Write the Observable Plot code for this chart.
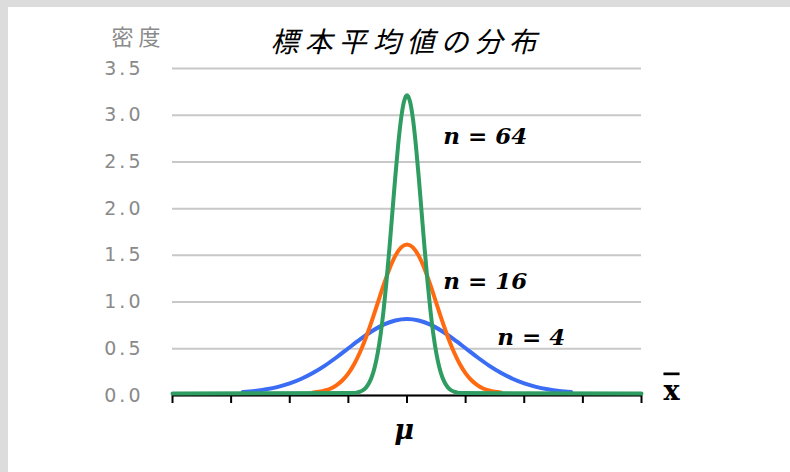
<!DOCTYPE html>
<html>
<head>
<meta charset="utf-8">
<script src="https://cdn.jsdelivr.net/npm/d3@7"></script>
<script src="https://cdn.jsdelivr.net/npm/@observablehq/plot@0.6"></script>
<style>
  html, body { margin: 0; padding: 0; background: #dcdcdc; width: 790px; height: 472px; overflow: hidden; }
  #panel { position: absolute; left: 8px; top: 7px; width: 782px; height: 465px; background: #ffffff; }
  g[aria-label="y-axis tick label"] text { letter-spacing: 3px; }
</style>
</head>
<body>
<div id="panel"></div>
<script>
// ---- data ----
const titleText = "標本平均値の分布";
const yAxisLabel = "密度";
const xAxisLabel = "x";
const muLabel = "μ";

const yTicks = [0, 0.5, 1.0, 1.5, 2.0, 2.5, 3.0, 3.5];
const xTicks = [-2, -1.5, -1, -0.5, 0, 0.5, 1, 1.5, 2];

// n = 4
const n4X = [-1.4,-1.3,-1.2,-1.1,-1.0,-0.9,-0.8,-0.7,-0.6,-0.5,-0.4,-0.3,-0.2,-0.1,0,0.1,0.2,0.3,0.4,0.5,0.6,0.7,0.8,0.9,1.0,1.1,1.2,1.3,1.4];
const n4Y = [0.016,0.027,0.045,0.071,0.108,0.158,0.222,0.299,0.388,0.484,0.579,0.666,0.737,0.782,0.798,0.782,0.737,0.666,0.579,0.484,0.388,0.299,0.222,0.158,0.108,0.071,0.045,0.027,0.016];

// n = 16
const n16X = [-0.8,-0.75,-0.7,-0.65,-0.6,-0.55,-0.5,-0.45,-0.4,-0.35,-0.3,-0.25,-0.2,-0.15,-0.1,-0.05,0,0.05,0.1,0.15,0.2,0.25,0.3,0.35,0.4,0.45,0.5,0.55,0.6,0.65,0.7,0.75,0.8];
const n16Y = [0.010,0.018,0.032,0.054,0.090,0.142,0.216,0.316,0.444,0.599,0.777,0.968,1.159,1.333,1.473,1.564,1.596,1.564,1.473,1.333,1.159,0.968,0.777,0.599,0.444,0.316,0.216,0.142,0.090,0.054,0.032,0.018,0.010];

// n = 64
const n64X = [-2,-0.45,-0.425,-0.4,-0.375,-0.35,-0.325,-0.3,-0.275,-0.25,-0.225,-0.2,-0.175,-0.15,-0.125,-0.1,-0.075,-0.05,-0.025,0,0.025,0.05,0.075,0.1,0.125,0.15,0.175,0.2,0.225,0.25,0.275,0.3,0.325,0.35,0.375,0.4,0.425,0.45,2];
const n64Y = [0,0.005,0.010,0.019,0.035,0.063,0.109,0.179,0.284,0.432,0.632,0.887,1.198,1.554,1.936,2.317,2.666,2.946,3.128,3.192,3.128,2.946,2.666,2.317,1.936,1.554,1.198,0.887,0.632,0.432,0.284,0.179,0.109,0.063,0.035,0.019,0.010,0.005,0];

const seriesNames = ["n = 4", "n = 16", "n = 64"];
const seriesColors = ["#3a6cf4", "#ff6a10", "#2f9d62"];

// label positions (data coordinates)
const labelText = ["n = 64", "n = 16", "n = 4"];
const labelX = [0.31, 0.31, 0.77];
const labelY = [2.77, 1.22, 0.62];

// ---- build tables ----
const seriesData = [
  n4X.map((x, i) => ({x, y: n4Y[i], s: seriesNames[0]})),
  n16X.map((x, i) => ({x, y: n16Y[i], s: seriesNames[1]})),
  n64X.map((x, i) => ({x, y: n64Y[i], s: seriesNames[2]}))
];
const labels = labelText.map((t, i) => ({t, x: labelX[i], y: labelY[i]}));

const plot = Plot.plot({
  width: 782,
  height: 465,
  marginLeft: 164,
  marginRight: 149,
  marginTop: 61,
  marginBottom: 77,
  style: { background: "transparent", overflow: "visible" },
  x: { domain: [-2, 2] },
  y: { domain: [0, 3.5] },
  marks: [
    Plot.gridY(yTicks, { stroke: "#c8c8c8", strokeOpacity: 1, strokeWidth: 2 }),
    Plot.axisY(yTicks, {
      tickSize: 0, tickPadding: 29, label: null,
      tickFormat: d => d.toFixed(1),
      fill: "#8a8a8a", fontSize: 19, fontFamily: "DejaVu Sans"
    }),
    Plot.axisX(xTicks, {
      tickSize: 8, tickFormat: () => "", label: null,
      stroke: "#000", strokeWidth: 2
    }),
    Plot.ruleY([0], { stroke: "#000", strokeWidth: 2 }),
    ...seriesData.map((d, i) => Plot.line(d, {
      x: "x", y: "y", stroke: seriesColors[i], strokeWidth: 4, dy: -2, curve: "monotone-x"
    })),
    Plot.text(labels, {
      x: "x", y: "y", text: "t", textAnchor: "start",
      fontFamily: "DejaVu Serif", fontWeight: "bold", fontStyle: "italic", fontSize: 23, fill: "#000"
    }),
    Plot.text([titleText], {
      frameAnchor: "top-left", dx: 234, dy: -36, text: d => d, textAnchor: "middle",
      fontFamily: "Noto Sans CJK JP", fontStyle: "italic", fontSize: 28, fill: "#000"
    }),
    Plot.text([yAxisLabel], {
      frameAnchor: "top-left", dx: -34, dy: -39, text: d => d, textAnchor: "middle",
      fontFamily: "Noto Sans CJK JP", fontSize: 22, fill: "#8a8a8a"
    }),
    Plot.text([xAxisLabel], {
      frameAnchor: "bottom-right", dx: 30, dy: 4, text: d => d, textAnchor: "middle",
      fontFamily: "DejaVu Serif", fontWeight: "bold", fontSize: 27, fill: "#000"
    }),
    Plot.text([muLabel], {
      frameAnchor: "bottom", dx: -3, dy: 43, text: d => d, textAnchor: "middle",
      fontFamily: "DejaVu Serif", fontWeight: "bold", fontStyle: "italic", fontSize: 27, fill: "#000"
    })
  ]
});
const svg = d3.select(plot);
svg.selectAll("text").filter(function () { return this.textContent === titleText; })
  .style("letter-spacing", "6px");
svg.selectAll("text").filter(function () { return this.textContent === yAxisLabel; })
  .style("letter-spacing", "5px");
svg.selectAll("text").filter(function () { return this.textContent === xAxisLabel; })
  .style("text-decoration", "overline").style("text-decoration-thickness", "2px");
document.getElementById("panel").appendChild(plot);
</script>
</body>
</html>
